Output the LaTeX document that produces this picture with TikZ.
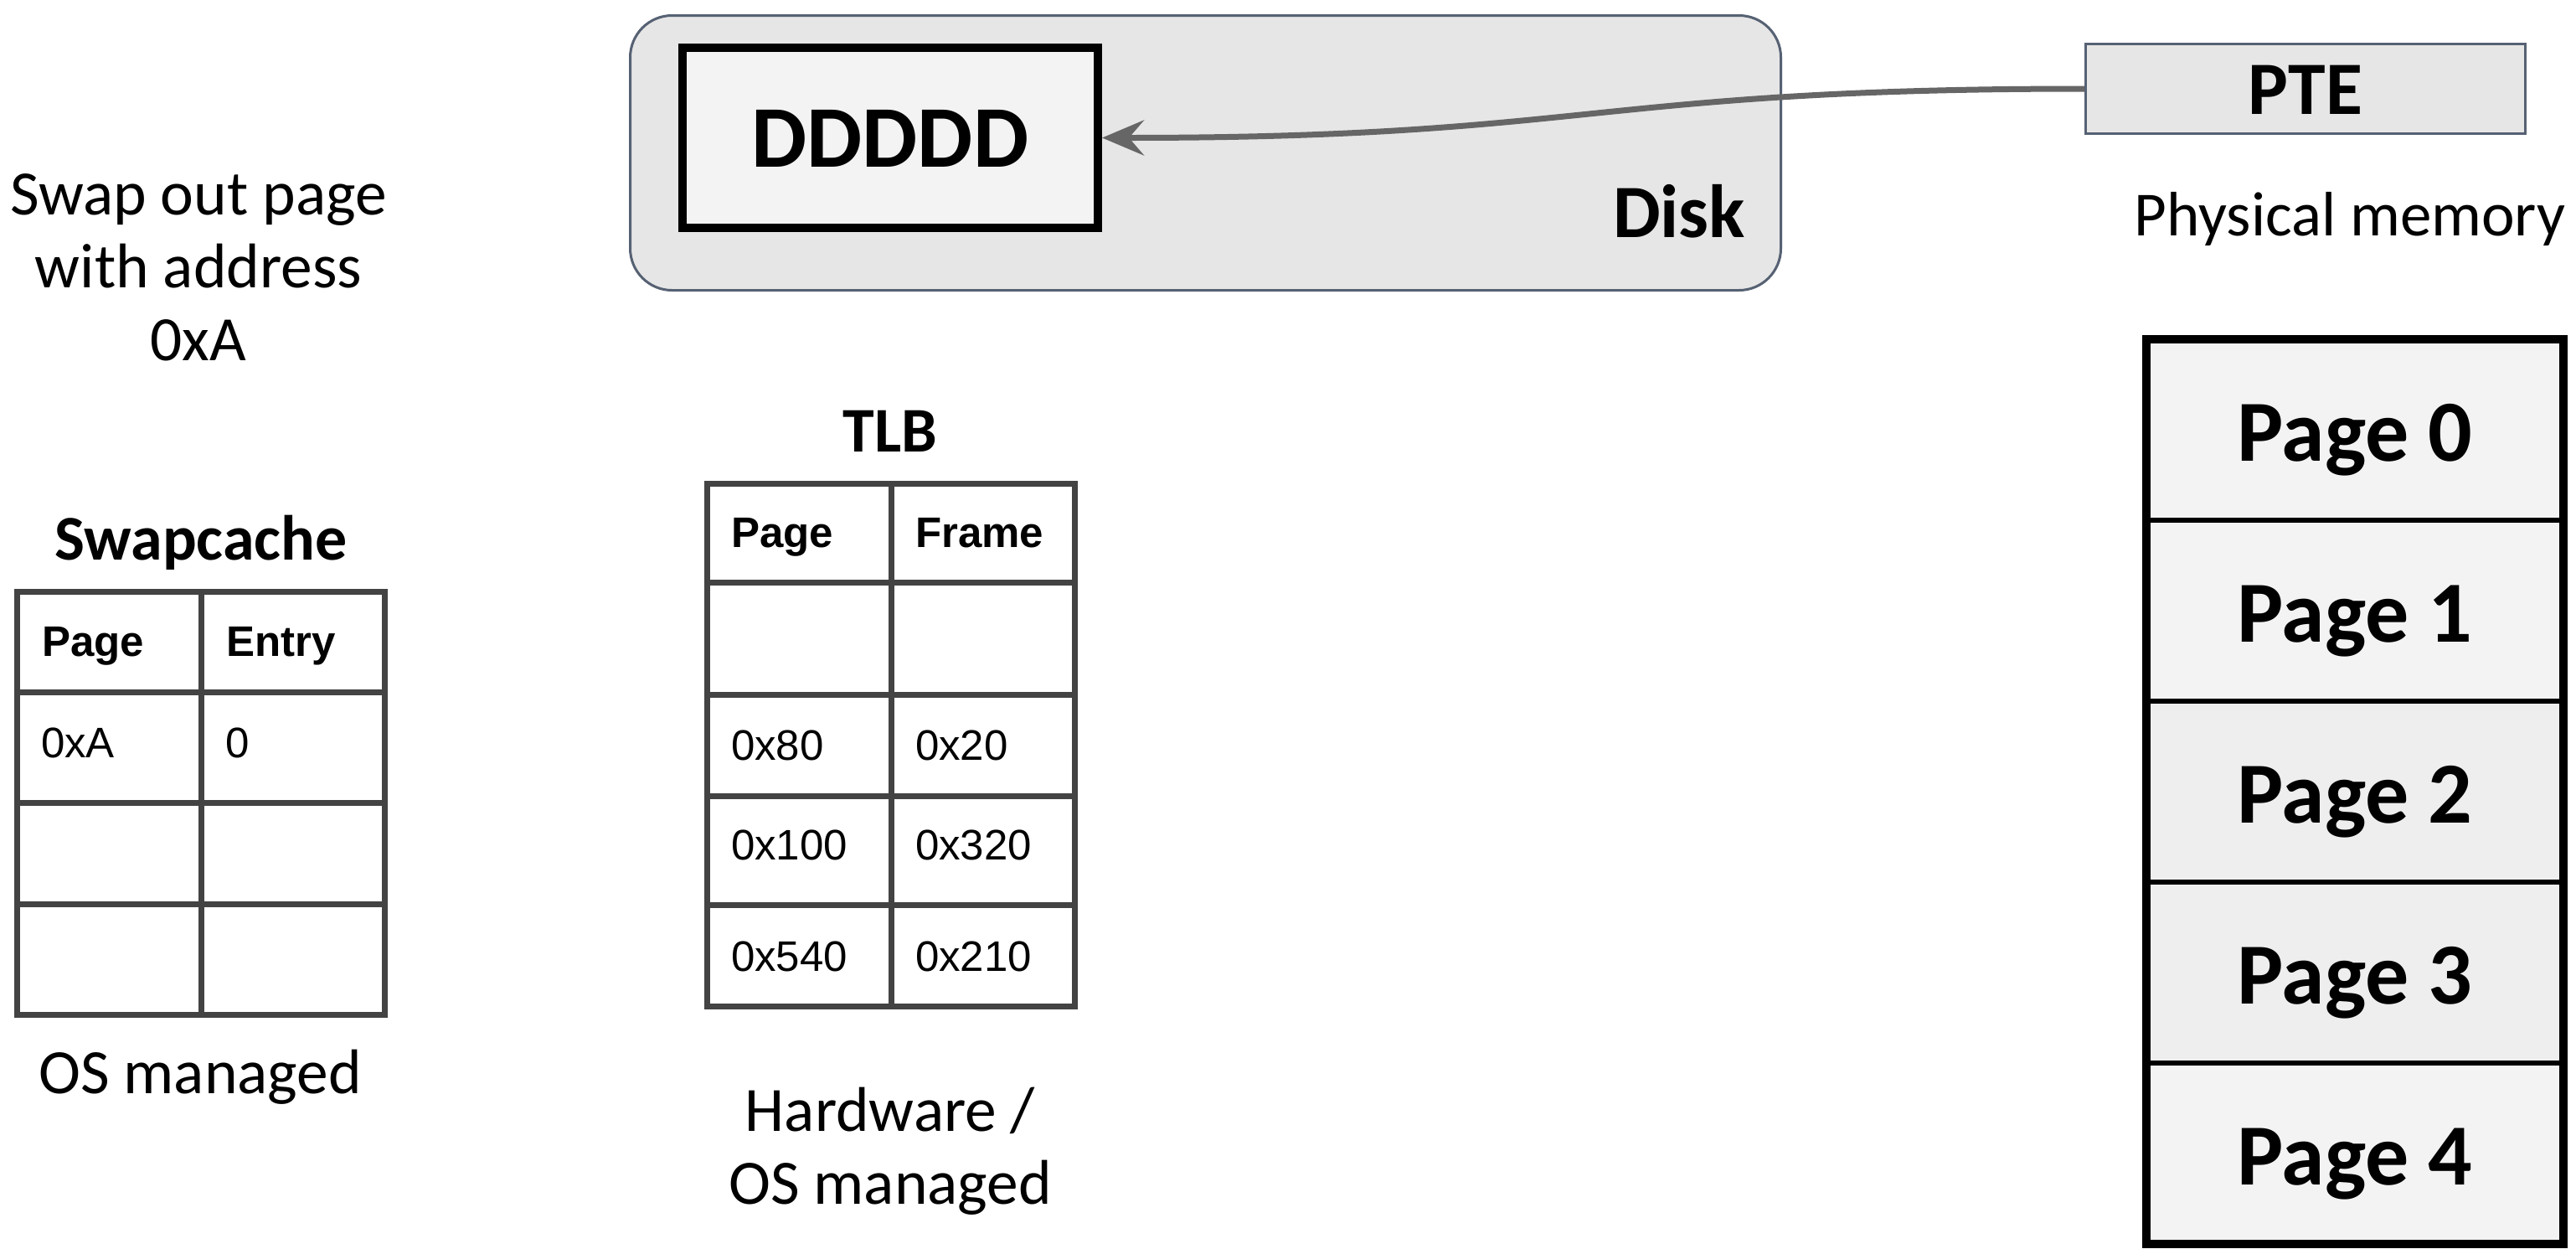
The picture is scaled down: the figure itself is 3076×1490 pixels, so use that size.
\documentclass[tikz,border=0pt]{standalone}
\usepackage{fontspec}
\setmainfont{Carlito}
\newfontfamily\arialf{Liberation Sans}
\usetikzlibrary{arrows.meta}
\definecolor{diskfill}{HTML}{E6E6E6}
\definecolor{slateb}{HTML}{566173}
\definecolor{boxfill}{HTML}{F3F3F3}
\definecolor{boxfillb}{HTML}{EEEEEE}
\definecolor{tabline}{HTML}{434343}
\definecolor{arrowc}{HTML}{666666}
\begin{document}
\begin{tikzpicture}[x=0.5pt,y=-0.5pt,
  lbl/.style={inner sep=0pt, outer sep=0pt, anchor=base},
  reg/.style={lbl, font=\fontsize{37.7pt}{43.5pt}\selectfont},
  ttl/.style={lbl, font=\bfseries\fontsize{38pt}{44pt}\selectfont},
  tabt/.style={inner sep=0pt, outer sep=0pt, anchor=base west, font=\arialf\fontsize{25.5pt}{30pt}\selectfont},
  tabh/.style={tabt, font=\arialf\bfseries\fontsize{25.5pt}{30pt}\selectfont},
  tabgrid/.style={draw=tabline, line width=3.5pt},
  pagebox/.style={draw=black, line width=3pt, minimum width=249pt, minimum height=108pt,
    outer sep=0pt, inner sep=0pt, text height=37pt, text depth=0pt,
    font=\bfseries\fontsize{52pt}{60pt}\selectfont}
]
\useasboundingbox (0,0) rectangle (3076,1490);

% Disk
\node[draw=slateb, fill=diskfill, line width=1.5pt, rounded corners=25pt,
      minimum width=687pt, minimum height=164pt, inner sep=0pt] (disk) at (1439.5,182.5) {};
\node[lbl, anchor=base east, font=\bfseries\fontsize{45pt}{52pt}\selectfont] (disklbl) at (2084,283) {Disk};
\node[draw=black, fill=boxfill, line width=5pt, minimum width=248pt, minimum height=107.5pt,
      inner sep=0pt, text height=35pt, text depth=0pt,
      font=\bfseries\fontsize{52.5pt}{60pt}\selectfont] (dbox) at (1063,164.5) {DDDDD};

% PTE
\node[draw=slateb, fill=diskfill, line width=1.5pt, minimum width=262.5pt, minimum height=53.5pt,
      inner sep=0pt, text height=30pt, text depth=0pt,
      font=\bfseries\fontsize{45pt}{50pt}\selectfont] (pte) at (2753,106) {PTE};
\node[lbl, font=\fontsize{37.5pt}{42pt}\selectfont] (physlbl) at (2806,281) {Physical memory};

\draw[arrowc, line width=3.5pt, -{Stealth[length=25pt,width=21pt,inset=9pt]}]
  (pte.west) .. controls +(-590,0) and +(586,0) .. (dbox.east);

% Left text
\node[reg] (sw1) at (237,256) {Swap out page};
\node[reg] (sw2) at (237,343) {with address};
\node[reg] (sw3) at (237,430) {0xA};

% Swapcache
\node[ttl] (sctitle) at (240,668) {Swapcache};
\draw[tabgrid] (20.7,706) rectangle (459,1211);
\draw[tabgrid] (240,706) -- (240,1211);
\draw[tabgrid] (20.7,826) -- (459,826);
\draw[tabgrid] (20.7,958) -- (459,958);
\draw[tabgrid] (20.7,1079) -- (459,1079);
\node[tabh] (sch1) at (50,783) {Page};
\node[tabh] (sch2) at (270,783) {Entry};
\node[tabt] (sc11) at (49,904) {0xA};
\node[tabt] (sc12) at (269,904) {0};
\node[reg] (scos) at (239,1305) {OS managed};

% TLB
\node[ttl] (tlbtitle) at (1063,539) {TLB};
\draw[tabgrid] (844,577) rectangle (1283,1201);
\draw[tabgrid] (1064,577) -- (1064,1201);
\draw[tabgrid] (844,695) -- (1283,695);
\draw[tabgrid] (844,829) -- (1283,829);
\draw[tabgrid] (844,950) -- (1283,950);
\draw[tabgrid] (844,1080) -- (1283,1080);
\node[tabh] (tlbh1) at (873,653) {Page};
\node[tabh] (tlbh2) at (1093,653) {Frame};
\node[tabt] (tlb31) at (873,907) {0x80};
\node[tabt] (tlb32) at (1093,907) {0x20};
\node[tabt] (tlb41) at (873,1026) {0x100};
\node[tabt] (tlb42) at (1093,1026) {0x320};
\node[tabt] (tlb51) at (873,1159) {0x540};
\node[tabt] (tlb52) at (1093,1159) {0x210};
\node[reg] (hw1) at (1063,1350) {Hardware /};
\node[reg] (hw2) at (1063,1437) {OS managed};

% Physical memory pages
\node[pagebox, fill=boxfill] (p0) at (2812,513) {Page 0};
\node[pagebox, fill=boxfill] (p1) at (2812,729) {Page 1};
\node[pagebox, fill=boxfillb] (p2) at (2812,945) {Page 2};
\node[pagebox, fill=boxfillb] (p3) at (2812,1161) {Page 3};
\node[pagebox, fill=boxfill] (p4) at (2812,1377) {Page 4};
\draw[line width=5pt] (p0.north west) rectangle (p4.south east);
\end{tikzpicture}
\end{document}
